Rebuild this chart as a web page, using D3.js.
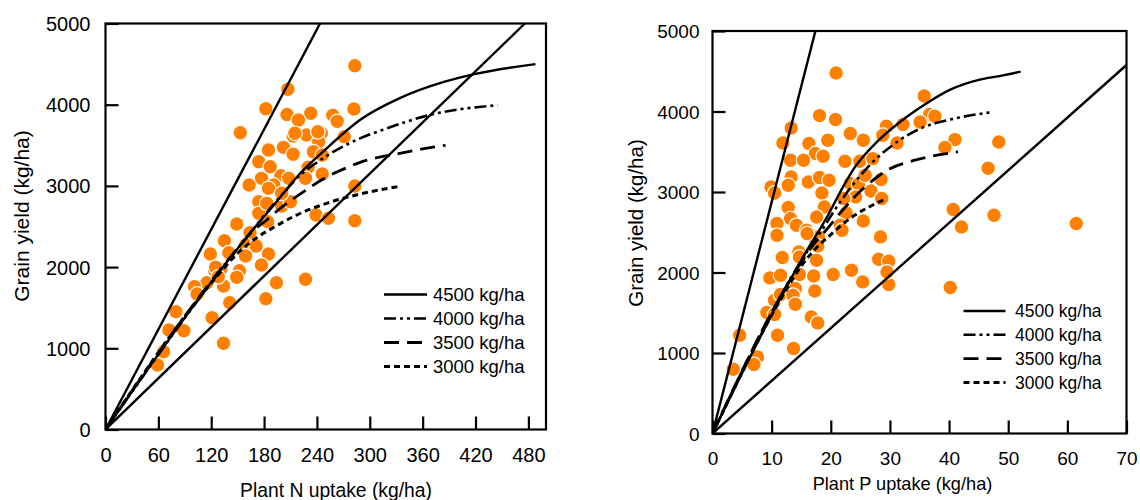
<!DOCTYPE html>
<html><head><meta charset="utf-8">
<script src="https://cdn.jsdelivr.net/npm/d3@7"></script>
<style>
html,body{margin:0;padding:0;background:#fff;}
svg text{font-family:"Liberation Sans",Arial,sans-serif;fill:#000;}
</style></head><body>
<svg id="chart" width="1140" height="500"></svg>
<script>
// ---------- Left panel: plant N uptake vs grain yield ----------
const nUptake = [283,207,182,206,233,258,263,282,219,153,213,228,245,242,271,202,185,213,236,174,230,246,199,177,163,191,208,185,174,200,210,239,253,283,149,283,184,174,187,
  164,135,159,171,119,140,159,185,124,131,152,177,149,115,134,194,227,101,104,141,182,80,121,72,89,134,66,59,125,128,246,227,200,183,215,241];
const nYield = [4480,4190,3950,3880,3894,3870,3795,3947,3811,3655,3614,3627,3648,3544,3606,3475,3442,3389,3421,3298,3229,3146,3126,3093,3011,3011,3093,2970,2805,2752,2805,2641,2601,2571,2530,2998,2560,2662,3236,
  2424,2325,2272,2260,2161,2177,2137,2161,1956,1973,1956,2026,1874,1808,1767,1808,1850,1759,1669,1562,1611,1451,1377,1225,1217,1062,958,794,2000,1880,3380,3093,2909,2785,3648,3667];
const nTicks = [0,60,120,180,240,300,360,420,480];
const nBoundUpper = [[0,0],[243.5,5000]];
const nBoundLower = [[0,0],[476,5000]];
const nCurve4500 = [[0,0],[150,2230],[168,2470],[183,2660],[202,2909],[221,3155],[249,3442],[290,3820],[334,4080],[384,4280],[420,4380],[488,4500]];
const nCurve4000 = [[0,0],[150,2230],[170,2500],[185,2700],[198,2860],[217,3093],[244,3319],[289,3586],[314,3688],[376,3894],[445,3993]];
const nCurve3500 = [[0,0],[150,2230],[165,2420],[183,2580],[198,2720],[225,2929],[247,3085],[274,3225],[289,3290],[334,3400],[360,3455],[386,3500]];
const nCurve3000 = [[0,0],[130,1930],[150,2170],[170,2350],[191,2490],[217,2641],[251,2785],[289,2900],[332,2990]];

// ---------- Right panel: plant P uptake vs grain yield ----------
const pUptake = [20.9,35.8,18.1,20.8,36.7,37.6,35.1,32.2,29.4,13.3,23.3,28.8,25.5,11.9,16.3,19.5,31.2,41.0,39.3,17.4,18.7,13.2,15.4,22.4,24.9,27.1,13.3,16.2,18.1,19.7,12.8,9.9,10.5,18.5,23.3,24.7,25.8,28.5,26.8,28.6,24.2,22.2,18.9,12.8,13.2,17.6,22.6,25.5,10.9,14.2,21.6,40.7,10.9,15.9,21.9,28.4,16.7,17.9,
  48.4,46.6,47.6,42.1,61.5,40.2,
  16.0,11.8,14.6,14.7,17.6,17.8,28.1,29.8,29.8,29.5,9.7,11.5,14.7,17.1,20.4,23.5,25.4,14.0,17.3,10.5,11.5,13.6,14.0,9.2,10.5,16.7,17.8,4.6,11.0,13.7,7.6,7.0,3.5];
const pYield = [4479,4193,3949,3900,3962,3941,3870,3838,3817,3796,3726,3705,3643,3609,3602,3643,3609,3651,3552,3478,3444,3394,3394,3382,3382,3415,3187,3125,3180,3146,3084,3063,2988,2988,3105,3096,3208,3155,3013,2919,2939,2919,2814,2807,2670,2690,2740,2640,2608,2587,2587,2782,2463,2525,2525,2442,2463,2442,
  3622,3295,2711,2566,2608,1813,
  2484,2186,2256,2193,2152,2330,2165,2140,1851,2007,1933,1966,1975,1957,1975,2028,1883,1801,1771,1656,1726,1718,1606,1503,1478,1448,1374,1221,1221,1056,951,857,799];
const pTicks = [0,10,20,30,40,50,60,70];
const pBoundUpper = [[0,0],[17.4,5000]];
const pBoundLower = [[0,0],[70,4578]];
const pCurve4500 = [[0,0],[15.5,2215],[19.6,2720],[21.6,3000],[23.9,3290],[27.8,3622],[31.7,3870],[35.7,4078],[40.2,4272],[45.2,4397],[48.5,4440],[52.1,4495]];
const pCurve4000 = [[0,0],[15,2145],[18.8,2560],[21,2814],[23.9,3105],[27.2,3380],[30.6,3590],[35.5,3800],[40.2,3900],[47.5,3995]];
const pCurve3500 = [[0,0],[14.5,2070],[17,2340],[19.6,2560],[21.6,2740],[23.9,2930],[27.2,3150],[30,3290],[33,3370],[36.2,3430],[41.5,3500]];
const pCurve3000 = [[0,0],[12.6,1800],[15,2080],[17.5,2300],[20,2470],[22,2600],[24,2710],[26.1,2800],[28,2870],[29.2,2910]];

const yTicks = [0,1000,2000,3000,4000,5000];
const legendLabels = ["4500 kg/ha","4000 kg/ha","3500 kg/ha","3000 kg/ha"];
const yTitle = "Grain yield (kg/ha)";

const styles = [
  {dash:null, w:2.4},
  {dash:"12,4,3,4,3,4", w:2.6},
  {dash:"15,8", w:2.8},
  {dash:"6,4", w:3}
];

const svg = d3.select("#chart");

function panel(cfg){
  const x = d3.scaleLinear().domain(cfg.xDomain).range(cfg.xRange);
  const y = d3.scaleLinear().domain([0,5000]).range(cfg.yRange);
  const g = svg.append("g");
  const clipId = "clip" + cfg.id;
  svg.append("clipPath").attr("id", clipId).append("rect")
    .attr("x", cfg.xRange[0]).attr("y", cfg.yRange[1])
    .attr("width", cfg.xRange[1]-cfg.xRange[0]).attr("height", cfg.yRange[0]-cfg.yRange[1]);

  // points
  const pts = g.append("g");
  cfg.xs.forEach((v,i)=>{
    pts.append("circle").attr("cx", x(v)).attr("cy", y(cfg.ys[i])).attr("r", 7.3)
      .attr("fill", "#ff8000").attr("stroke", "#fff").attr("stroke-width", 1.2);
  });

  const line = d3.line().x(d=>x(d[0])).y(d=>y(d[1]));
  const curve = d3.line().x(d=>x(d[0])).y(d=>y(d[1])).curve(d3.curveMonotoneX);
  const lg = g.append("g").attr("clip-path", `url(#${clipId})`);
  [cfg.boundUpper, cfg.boundLower].forEach(b=>{
    lg.append("path").attr("d", line(b)).attr("fill","none").attr("stroke","#000").attr("stroke-width",2.4);
  });
  cfg.curves.forEach((c,i)=>{
    const p = lg.append("path").attr("d", curve(c)).attr("fill","none").attr("stroke","#000")
      .attr("stroke-width", styles[i].w);
    if(styles[i].dash) p.attr("stroke-dasharray", styles[i].dash);
  });

  // frame
  g.append("rect").attr("x", cfg.xRange[0]).attr("y", cfg.yRange[1])
    .attr("width", cfg.xRange[1]-cfg.xRange[0]).attr("height", cfg.yRange[0]-cfg.yRange[1])
    .attr("fill","none").attr("stroke","#000").attr("stroke-width",2.2);

  // x axis (ticks inside)
  const xa = d3.axisBottom(x).tickValues(cfg.xTicks).tickSize(-13).tickPadding(0).tickFormat(d3.format("d"));
  const xg = g.append("g").attr("transform", `translate(0,${cfg.yRange[0]})`).call(xa);
  xg.select(".domain").remove();
  xg.selectAll("line").attr("stroke","#000").attr("stroke-width",2.2);
  xg.selectAll("text").attr("y", cfg.xLabelY - cfg.yRange[0]).attr("dy","0.35em")
    .style("font-size", cfg.tickFont+"px").attr("fill","#000");

  // y axis (ticks inside)
  const ya = d3.axisLeft(y).tickValues(yTicks).tickSize(-13).tickPadding(0).tickFormat(d3.format("d"));
  const yg = g.append("g").attr("transform", `translate(${cfg.xRange[0]},0)`).call(ya);
  yg.select(".domain").remove();
  yg.selectAll("line").attr("stroke","#000").attr("stroke-width",2.2);
  yg.selectAll("text").attr("x", -cfg.yLabelGap).attr("dy","0.35em")
    .style("font-size", cfg.tickFont+"px").attr("fill","#000");

  // titles
  g.append("text").attr("x", cfg.xTitle[0]).attr("y", cfg.xTitle[1]).attr("text-anchor","middle")
    .attr("dy","0.35em").style("font-size", cfg.xTitleFont+"px").text(cfg.xTitleText);
  g.append("text").attr("transform", `translate(${cfg.yTitle[0]},${cfg.yTitle[1]}) rotate(-90)`)
    .attr("text-anchor","middle").attr("dy","0.35em").style("font-size", cfg.yTitleFont+"px").text(yTitle);

  // legend
  const leg = g.append("g");
  legendLabels.forEach((lab,i)=>{
    const yy = cfg.legend.y0 + i*cfg.legend.dy;
    const l = leg.append("line").attr("x1", cfg.legend.x1).attr("x2", cfg.legend.x2)
      .attr("y1", yy).attr("y2", yy).attr("stroke","#000").attr("stroke-width", styles[i].w);
    if(styles[i].dash) l.attr("stroke-dasharray", styles[i].dash);
    leg.append("text").attr("x", cfg.legend.tx).attr("y", yy).attr("dy","0.35em")
      .style("font-size", cfg.legend.font+"px").text(lab);
  });
}

panel({
  id:"N", xDomain:[0,500], xRange:[105.5,546], yRange:[429.5,23.5],
  xs:nUptake, ys:nYield, xTicks:nTicks,
  boundUpper:nBoundUpper, boundLower:nBoundLower,
  curves:[nCurve4500,nCurve4000,nCurve3500,nCurve3000],
  tickFont:20, xLabelY:455, yLabelGap:15,
  xTitle:[336,490], xTitleFont:19.3, xTitleText:"Plant N uptake (kg/ha)",
  yTitle:[22,216], yTitleFont:21,
  legend:{x1:384,x2:427,tx:433,y0:294.5,dy:24,font:18.5}
});

panel({
  id:"P", xDomain:[0,70], xRange:[712.5,1126.5], yRange:[433.5,31],
  xs:pUptake, ys:pYield, xTicks:pTicks,
  boundUpper:pBoundUpper, boundLower:pBoundLower,
  curves:[pCurve4500,pCurve4000,pCurve3500,pCurve3000],
  tickFont:19, xLabelY:458, yLabelGap:13,
  xTitle:[902.5,483.5], xTitleFont:18.2, xTitleText:"Plant P uptake (kg/ha)",
  yTitle:[635.5,223], yTitleFont:20.5,
  legend:{x1:963.5,x2:1005.5,tx:1015,y0:311,dy:23.8,font:17.5}
});
</script>
</body></html>
